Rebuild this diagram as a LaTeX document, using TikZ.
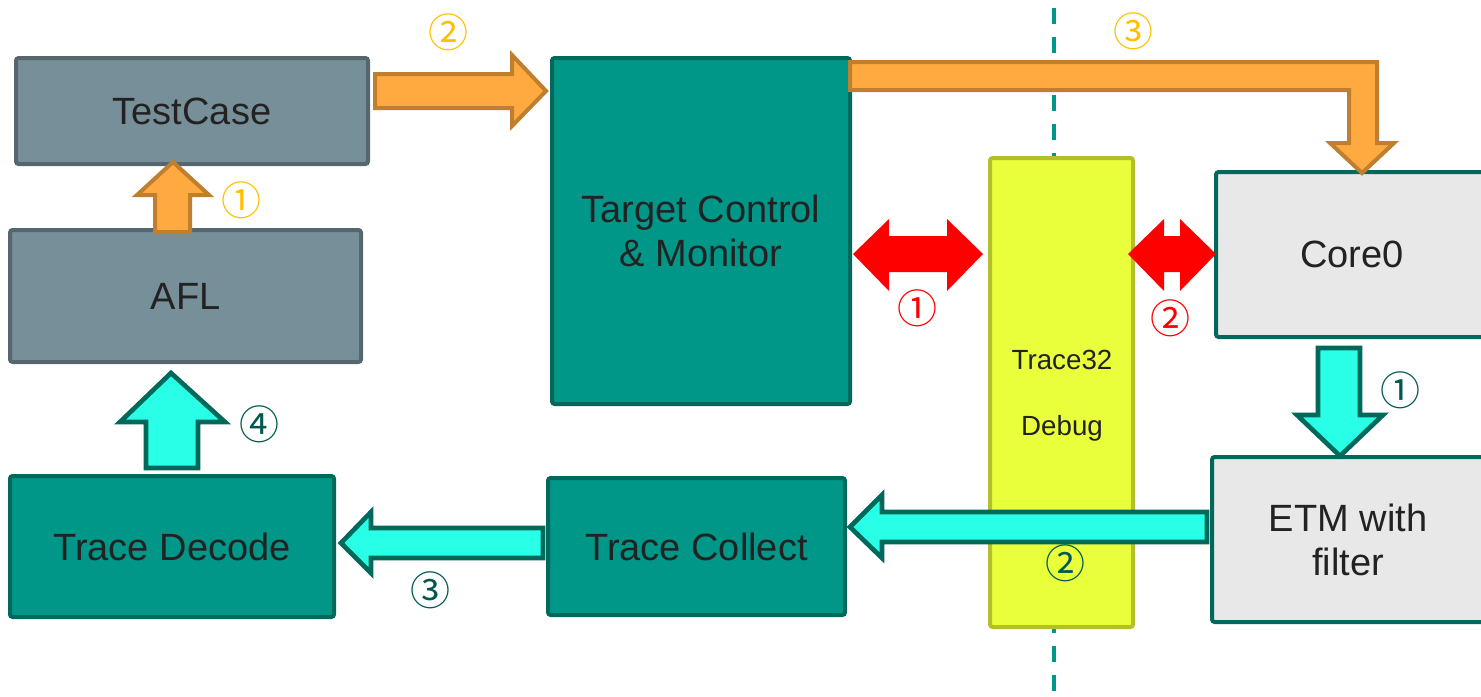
\documentclass[tikz,border=0pt]{standalone}
\usepackage{fontspec}
\setmainfont{Liberation Sans}
\newfontfamily\circfont{Noto Sans CJK SC}
\definecolor{grayfill}{HTML}{778F99}
\definecolor{grayline}{HTML}{56666F}
\definecolor{tealfill}{HTML}{009688}
\definecolor{tealline}{HTML}{00695C}
\definecolor{yelfill}{HTML}{EAFF3C}
\definecolor{yelline}{HTML}{B3C02C}
\definecolor{lgfill}{HTML}{E8E8E8}
\definecolor{orfill}{HTML}{FFAA40}
\definecolor{orline}{HTML}{C07F2E}
\definecolor{cyfill}{HTML}{29FFE6}
\definecolor{lblor}{HTML}{FFC000}
\definecolor{lblteal}{HTML}{00594E}
\definecolor{txt}{HTML}{222222}
\begin{document}
\begin{tikzpicture}[x=0.75pt,y=-0.75pt,
  box/.style={draw, line width=3pt, rounded corners=2pt, text=txt, align=center, inner sep=0pt,
    font=\fontsize{28.5}{33}\selectfont},
  graybox/.style={box, fill=grayfill, draw=grayline},
  tealbox/.style={box, fill=tealfill, draw=tealline},
  lightbox/.style={box, fill=lgfill, draw=tealline},
  orarrow/.style={fill=orfill, draw=orline, line width=3pt, line join=miter},
  cyarrow/.style={fill=cyfill, draw=tealline, line width=3.5pt, line join=miter},
  redarrow/.style={fill=red},
  lbl/.style={font=\circfont\fontsize{30}{30}\selectfont, inner sep=0pt},
  smalltxt/.style={font=\fontsize{20.8}{24}\selectfont, text=txt, inner sep=0pt}
]
\useasboundingbox (0,0) rectangle (1481,696);
% dashed separator
\draw[tealfill, line width=3pt, dash pattern=on 12pt off 9.75pt] (1054,8) -- (1054,696);
% boxes
\node[graybox, minimum width=352*0.75pt, minimum height=106*0.75pt] (tc) at (192,111) {TestCase};
\node[graybox, minimum width=351*0.75pt, minimum height=132*0.75pt] (afl) at (185.5,296) {AFL};
\node[tealbox, minimum width=298*0.75pt, minimum height=346*0.75pt] (tcm) at (701,231) {Target Control\\\& Monitor};
\node[box, fill=yelfill, draw=yelline, minimum width=143*0.75pt, minimum height=469*0.75pt] (t32) at (1061.5,392.5) {};
\node[smalltxt] (t32a) at (1062,360) {Trace32};
\node[smalltxt] (t32b) at (1062,428) {Debug};
\node[lightbox, minimum width=272*0.75pt, minimum height=165*0.75pt] (core) at (1352,254.5) {Core0};
\node[lightbox, minimum width=272*0.75pt, minimum height=165*0.75pt] (etm) at (1348,539.5) {ETM with\\filter};
\node[tealbox, minimum width=297*0.75pt, minimum height=137*0.75pt] (tcol) at (696.5,546.5) {Trace Collect};
\node[tealbox, minimum width=324*0.75pt, minimum height=141*0.75pt] (tdec) at (172,546.5) {Trace Decode};
% orange arrows
\draw[orarrow] (155,232) -- (155,195) -- (137,195) -- (173,162) -- (209,195) -- (190,195) -- (190,232) -- cycle;
\draw[orarrow] (375,74) -- (512,74) -- (512,55) -- (546,91) -- (512,126) -- (512,108) -- (375,108) -- cycle;
\draw[orarrow] (850,62) -- (1377,62) -- (1377,143) -- (1394,143) -- (1362,173) -- (1330,143) -- (1349,143) -- (1349,90) -- (850,90) -- cycle;
% red arrows
\fill[redarrow] (853,254) -- (889,219) -- (889,236) -- (947,236) -- (947,219) -- (983,254) -- (947,291) -- (947,272) -- (889,272) -- (889,291) -- cycle;
\fill[redarrow] (1128,254) -- (1164,219) -- (1164,236) -- (1180,236) -- (1180,219) -- (1216,254) -- (1180,291) -- (1180,272) -- (1164,272) -- (1164,291) -- cycle;
% cyan arrows
\draw[cyarrow] (1318,348) -- (1360,348) -- (1360,415) -- (1383,415) -- (1340,456) -- (1297,415) -- (1318,415) -- cycle;
\draw[cyarrow] (1207,512) -- (1207,542) -- (882,542) -- (882,558) -- (850,527) -- (882,495) -- (882,512) -- cycle;
\draw[cyarrow] (543,528) -- (543,558) -- (371,558) -- (371,573) -- (341,543) -- (371,512) -- (371,528) -- cycle;
\draw[cyarrow] (146,468) -- (146,422) -- (120,422) -- (171,373) -- (225,422) -- (198,422) -- (198,468) -- cycle;
% labels
\node[lbl, text=lblor] (o1) at (241,200) {①};
\node[lbl, text=lblor] (o2) at (448,32) {②};
\node[lbl, text=lblor] (o3) at (1133,31) {③};
\node[lbl, text=red] (r1) at (917,308) {①};
\node[lbl, text=red] (r2) at (1170,318) {②};
\node[lbl, text=lblteal] (c1) at (1400,390) {①};
\node[lbl, text=lblteal] (c2) at (1065,563) {②};
\node[lbl, text=lblteal] (c3) at (430,590) {③};
\node[lbl, text=lblteal] (c4) at (259,424) {④};
\end{tikzpicture}
\end{document}
